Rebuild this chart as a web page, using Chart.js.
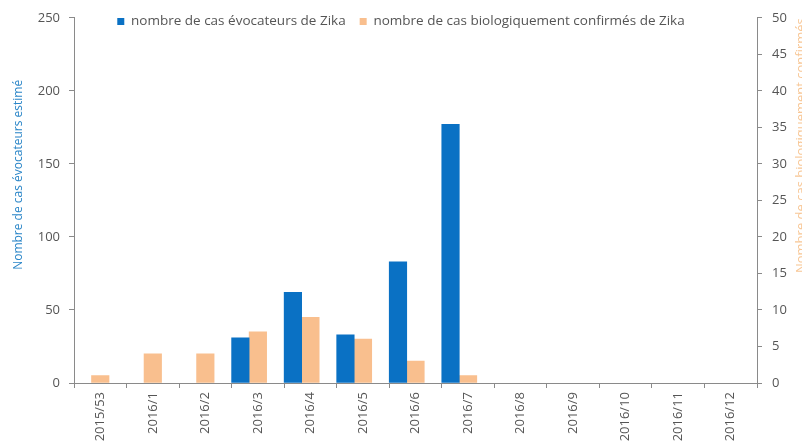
<!DOCTYPE html>
<html>
<head>
<meta charset="utf-8">
<script src="https://cdn.jsdelivr.net/npm/chart.js@4"></script>
<style>
  html, body { margin: 0; padding: 0; background: #fff; }
  #wrap { width: 802px; height: 441px; }
</style>
</head>
<body>
<div id="wrap"><canvas id="zikaChart" width="802" height="441"></canvas></div>
<script>
const weeks = ['2015/53', '2016/1', '2016/2', '2016/3', '2016/4', '2016/5', '2016/6', '2016/7', '2016/8', '2016/9', '2016/10', '2016/11', '2016/12'];
const casEvocateurs = [null, null, null, 31, 62, 33, 83, 177, null, null, null, null, null];
const casConfirmes = [1, 4, 4, 7, 9, 6, 3, 1, null, null, null, null, null];
const leftTicks = { min: 0, max: 250, step: 50 };
const rightTicks = { min: 0, max: 50, step: 5 };

const blue = '#0a71c4';
const orange = '#f9bf8e';
const axisGrey = '#8a8a8a';
const txt = '#555555';
const fontFam = '"Open Sans", "Noto Sans", sans-serif';

// axis titles, drawn on the canvas like Excel does (left reads up, right is cut by the edge)
const axisTitles = {
    id: 'axisTitles',
    afterDraw(chart) {
        const ctx = chart.ctx;
        const area = chart.chartArea;
        ctx.save();
        ctx.font = '12px ' + fontFam;
        ctx.textAlign = 'center';
        ctx.textBaseline = 'middle';
        ctx.fillStyle = '#2b86c8';
        ctx.translate(19, area.top + (area.bottom - area.top) * 0.43);
        ctx.rotate(-Math.PI / 2);
        ctx.fillText('Nombre de cas évocateurs estimé', 0, 0);
        ctx.restore();

        ctx.save();
        ctx.font = '13px ' + fontFam;
        ctx.textAlign = 'center';
        ctx.textBaseline = 'middle';
        ctx.fillStyle = '#f8c796';
        ctx.translate(801, area.top + (area.bottom - area.top) * 0.35);
        ctx.rotate(-Math.PI / 2);
        ctx.fillText('Nombre de cas biologiquement confirmés', 0, 0);
        ctx.restore();
    }
};

// legend sits over the top of the plot, so it takes almost no room
const flatLegend = {
    id: 'flatLegend',
    beforeInit(chart) {
        const origFit = chart.legend.fit;
        chart.legend.fit = function () {
            origFit.bind(this)();
            this.height = 17;
        };
    },
    afterLayout(chart) {
        // widen the legend box again so its clip does not cut the text
        chart.legend.height = 32;
        chart.legend.bottom = chart.legend.top + 32;
    }
};

const ctx = document.getElementById('zikaChart').getContext('2d');
const chart = new Chart(ctx, {
    type: 'bar',
    data: {
        labels: weeks,
        datasets: [
            { label: 'nombre de cas évocateurs de Zika', data: casEvocateurs, backgroundColor: blue, yAxisID: 'y' },
            { label: 'nombre de cas biologiquement confirmés de Zika', data: casConfirmes, backgroundColor: orange, yAxisID: 'y2' },
            { label: '', data: [], backgroundColor: 'rgba(0,0,0,0)', yAxisID: 'y2' }
        ]
    },
    options: {
        responsive: false,
        animation: false,
        categoryPercentage: 1,
        barPercentage: 1,
        layout: { padding: { top: 0, left: 0, right: 0, bottom: 0 } },
        plugins: {
            legend: {
                position: 'top',
                labels: {
                    boxWidth: 7, boxHeight: 7, padding: 14, color: txt,
                    font: { size: 13.5, family: fontFam },
                    filter: item => item.text !== ''
                }
            },
            tooltip: { enabled: false }
        },
        scales: {
            x: {
                grid: { display: true, drawOnChartArea: false, drawTicks: true, tickLength: 5, color: axisGrey, offset: true },
                border: { display: true, color: axisGrey },
                ticks: { color: txt, minRotation: 90, maxRotation: 90, padding: 4, font: { size: 13, family: fontFam } },
                afterFit(scale) { scale.height = 58; }
            },
            y: {
                position: 'left',
                min: leftTicks.min, max: leftTicks.max,
                grid: { drawOnChartArea: false, drawTicks: true, tickLength: 5, color: axisGrey },
                border: { display: true, color: axisGrey },
                ticks: { stepSize: leftTicks.step, color: txt, padding: 9, font: { size: 13, family: fontFam } },
                afterFit(scale) { scale.width = 74; }
            },
            y2: {
                position: 'right',
                min: rightTicks.min, max: rightTicks.max,
                grid: { drawOnChartArea: false, drawTicks: true, tickLength: 5, color: axisGrey },
                border: { display: true, color: axisGrey },
                ticks: { stepSize: rightTicks.step, color: txt, padding: 10, font: { size: 13, family: fontFam } },
                afterFit(scale) { scale.width = 45; }
            }
        }
    },
    plugins: [flatLegend, axisTitles]
});
</script>
</body>
</html>
